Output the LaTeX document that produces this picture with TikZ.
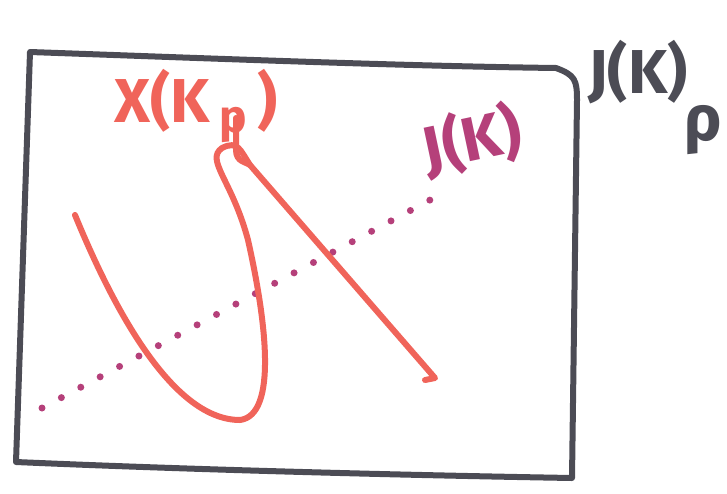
\documentclass[tikz,border=0pt]{standalone}
\usepackage{fontspec}
\setmainfont{Fira Sans}
\definecolor{penred}{HTML}{F0645A}
\definecolor{penmag}{HTML}{B5407A}
\definecolor{pengray}{HTML}{4C4C55}
\begin{document}
\begin{tikzpicture}[x=1pt,y=-1pt,
  penline/.style={line width=6pt,line cap=round,line join=round},
  hand/.style={font=\fontsize{62}{62}\selectfont\bfseries,inner sep=0pt}]
\useasboundingbox (0,0) rectangle (727,493);
% frame
\draw[penline,pengray] (30,52) .. controls (200,58) and (400,66) .. (556,68)
  .. controls (575,75) and (577,80) .. (577,100)
  -- (572,478) .. controls (400,475) and (200,470) .. (16,462)
  -- (30,52);
% dotted line
\coordinate (ds) at (42,408);
\coordinate (de) at (430,200);
\draw[penmag,line width=7pt,line cap=round,dash pattern=on 0pt off 22pt] (ds) -- (de);
% red curve
\coordinate (rs) at (75,215);
\coordinate (re) at (435,378);
\draw[penline,penred] (rs) .. controls (110,300) and (170,420) .. (240,420)
  .. controls (278,415) and (266,320) .. (248,240)
  .. controls (232,180) and (205,160) .. (222,148)
  .. controls (238,140) and (240,150) .. (250,165)
  -- (re) -- (425,380);
\draw[penline,penred] (236,118) -- (236,150) .. controls (236,162) and (246,162) .. (250,165);
% labels
\node[hand,text=penred] (xk) at (196,106) {X(K\,\raisebox{-0.3ex}{\fontsize{46}{46}\selectfont\bfseries p}\,)};
\node[hand,text=penmag,rotate=12] (jk) at (472,140) {J(K)};
\node[hand,text=pengray,anchor=west] (jkp) at (588,72) {J(K)};
\node[hand,text=pengray,font=\fontsize{64}{64}\selectfont\bfseries] (rho) at (703,130) {ρ};
\end{tikzpicture}
\end{document}
